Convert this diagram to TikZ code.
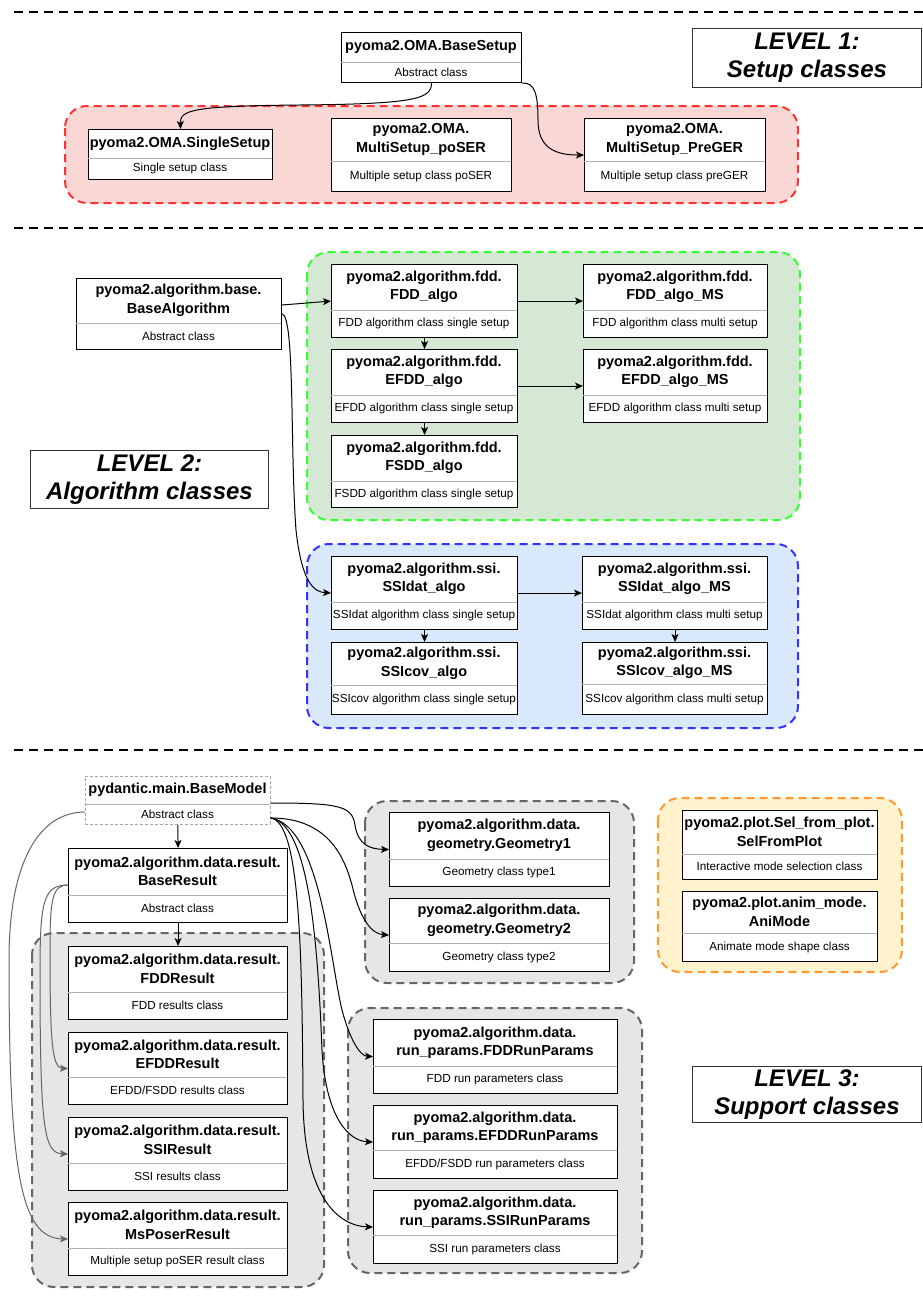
\documentclass[tikz,border=0pt]{standalone}
\usepackage{fontspec}
\setmainfont{Liberation Sans}
\usetikzlibrary{arrows.meta}
\definecolor{redfill}{HTML}{F8D7D5}
\definecolor{redline}{HTML}{FF3333}
\definecolor{greenfill}{HTML}{D5E8D4}
\definecolor{greenline}{HTML}{33FF33}
\definecolor{bluefill}{HTML}{DAE8FC}
\definecolor{blueline}{HTML}{3333FF}
\definecolor{grayfill}{HTML}{E6E6E6}
\definecolor{grayline}{HTML}{666666}
\definecolor{orangefill}{HTML}{FFF2CC}
\definecolor{orangeline}{HTML}{FF9933}
\tikzset{
  clsbox/.style={draw=black, line width=1.1pt, fill=white, inner sep=0pt, anchor=north west},
  ttltxt/.style={font=\bfseries\fontsize{14.5}{18.5}\selectfont, align=center, inner sep=0pt},
  subtxt/.style={font=\fontsize{11.7}{14}\selectfont, inner sep=0pt},
  divline/.style={draw=gray!60, line width=0.8pt},
  conn/.style={draw=black, line width=1pt, -{Stealth[length=8pt,width=7pt,inset=2pt]}},
  gconn/.style={conn, draw=grayline},
  sepline/.style={draw=black, line width=2.5pt, dash pattern=on 9pt off 6pt},
  grpbox/.style={rounded corners=22pt, line width=2pt, dash pattern=on 8pt off 5pt},
  lvlbox/.style={draw=black!80, line width=1pt, fill=white, inner sep=0pt, anchor=north west,
     font=\bfseries\itshape\fontsize{24}{28}\selectfont, align=center},
}
% [style] name x1 y1 x2 y2 ydiv title sub
\newcommand\clsnode[9][]{%
  \node[clsbox,#1,minimum width={#5pt-#3pt},minimum height={#6pt-#4pt}] (#2) at (#3,#4) {};
  \draw[divline] (#3,#7) -- (#5,#7);
  \node[ttltxt] (#2-t) at ({(#3+#5)/2},{(#4+#7)/2}) {#8};
  \node[subtxt] (#2-s) at ({(#3+#5)/2},{(#7+#6)/2}) {#9};
}
\begin{document}
\begin{tikzpicture}[x=1pt,y=-1pt]
\useasboundingbox (0,0) rectangle (923,1309);
\fill[white] (0,0) rectangle (923,1309);
% separators
\draw[sepline] (14,12) -- (923,12);
\draw[sepline] (14,228) -- (923,228);
\draw[sepline] (14,750) -- (923,750);
% containers
\draw[grpbox, draw=redline, fill=redfill] (65,106) rectangle (798,203);
\draw[grpbox, draw=greenline, fill=greenfill] (307,252) rectangle (800,520);
\draw[grpbox, draw=blueline, fill=bluefill] (307,544) rectangle (798,728);
\draw[grpbox, draw=grayline, fill=grayfill] (32,933) rectangle (324,1287);
\draw[grpbox, draw=grayline, fill=grayfill] (365,801) rectangle (634,983);
\draw[grpbox, draw=grayline, fill=grayfill] (348,1008) rectangle (642,1273);
\draw[grpbox, draw=orangeline, fill=orangefill] (658,798) rectangle (902,972);
% level labels
\node[lvlbox, minimum width=229pt, minimum height=59pt] (lvl1) at (692,28) {LEVEL 1:\\Setup classes};
\node[lvlbox, minimum width=238pt, minimum height=58pt] (lvl2) at (30,450) {LEVEL 2:\\Algorithm classes};
\node[lvlbox, minimum width=229pt, minimum height=56pt] (lvl3) at (692,1066) {LEVEL 3:\\Support classes};
% level 1
\clsnode{bsetup}{341}{32}{521}{82}{62}{pyoma2.OMA.BaseSetup}{Abstract class}
\clsnode{single}{88}{129}{272}{179}{158}{pyoma2.OMA.SingleSetup}{Single setup class}
\clsnode{poser}{331}{118}{511}{191}{161}{pyoma2.OMA.\\MultiSetup\_poSER}{Multiple setup class poSER}
\clsnode{preger}{584}{118}{765}{191}{161}{pyoma2.OMA.\\MultiSetup\_PreGER}{Multiple setup class preGER}
% level 2
\clsnode{balgo}{76}{278}{281}{349}{323}{pyoma2.algorithm.base.\\BaseAlgorithm}{Abstract class}
\clsnode{fdd}{331}{264}{517}{337}{310}{pyoma2.algorithm.fdd.\\FDD\_algo}{FDD algorithm class single setup}
\clsnode{efdd}{331}{349}{517}{422}{395}{pyoma2.algorithm.fdd.\\EFDD\_algo}{EFDD algorithm class single setup}
\clsnode{fsdd}{331}{435}{517}{507}{481}{pyoma2.algorithm.fdd.\\FSDD\_algo}{FSDD algorithm class single setup}
\clsnode{fddms}{583}{264}{767}{337}{310}{pyoma2.algorithm.fdd.\\FDD\_algo\_MS}{FDD algorithm class multi setup}
\clsnode{efddms}{583}{349}{767}{422}{395}{pyoma2.algorithm.fdd.\\EFDD\_algo\_MS}{EFDD algorithm class multi setup}
\clsnode{ssidat}{331}{556}{517}{629}{602}{pyoma2.algorithm.ssi.\\SSIdat\_algo}{SSIdat algorithm class single setup}
\clsnode{ssicov}{331}{642}{517}{714}{685}{pyoma2.algorithm.ssi.\\SSIcov\_algo}{SSIcov algorithm class single setup}
\clsnode{ssidatms}{582}{556}{767}{629}{602}{pyoma2.algorithm.ssi.\\SSIdat\_algo\_MS}{SSIdat algorithm class multi setup}
\clsnode{ssicovms}{582}{642}{767}{714}{684}{pyoma2.algorithm.ssi.\\SSIcov\_algo\_MS}{SSIcov algorithm class multi setup}
% level 3
\clsnode[draw=gray!70, line width=0.8pt, dash pattern=on 3pt off 2pt]{bmodel}{85}{776}{270}{824}{804}{pydantic.main.BaseModel}{Abstract class}
\clsnode{bresult}{68}{848}{287}{922}{895}{pyoma2.algorithm.data.result.\\BaseResult}{Abstract class}
\clsnode{fddres}{68}{946}{287}{1019}{992}{pyoma2.algorithm.data.result.\\FDDResult}{FDD results class}
\clsnode{efddres}{68}{1032}{287}{1104}{1077}{pyoma2.algorithm.data.result.\\EFDDResult}{EFDD/FSDD results class}
\clsnode{ssires}{68}{1117}{287}{1190}{1163}{pyoma2.algorithm.data.result.\\SSIResult}{SSI results class}
\clsnode{msposer}{68}{1202}{287}{1275}{1248}{pyoma2.algorithm.data.result.\\MsPoserResult}{Multiple setup poSER result class}
\clsnode{geo1}{389}{812}{609}{886}{859}{pyoma2.algorithm.data.\\geometry.Geometry1}{Geometry class type1}
\clsnode{geo2}{389}{898}{609}{971}{943}{pyoma2.algorithm.data.\\geometry.Geometry2}{Geometry class type2}
\clsnode{fddrp}{373}{1019}{617}{1093}{1066}{pyoma2.algorithm.data.\\run\_params.FDDRunParams}{FDD run parameters class}
\clsnode{efddrp}{373}{1105}{617}{1178}{1150}{pyoma2.algorithm.data.\\run\_params.EFDDRunParams}{EFDD/FSDD run parameters class}
\clsnode{ssirp}{373}{1190}{617}{1263}{1235}{pyoma2.algorithm.data.\\run\_params.SSIRunParams}{SSI run parameters class}
\clsnode{selplot}{682}{810}{877}{879}{854}{pyoma2.plot.Sel\_from\_plot.\\SelFromPlot}{Interactive mode selection class}
\clsnode{animode}{682}{891}{877}{961}{933}{pyoma2.plot.anim\_mode.\\AniMode}{Animate mode shape class}
% connectors level 1
\draw[conn] (bsetup.south) .. controls (431,98) and (420,104) .. (300,105) .. controls (192,106) and (180,110) .. (single.north);
\draw[conn] (bsetup.south east) .. controls (535,82) and (538,95) .. (538,120) .. controls (538,148) and (555,155) .. (preger.west);
% connectors level 2
\coordinate (ba1) at ([yshift=-27pt]balgo.north east);
\coordinate (ba2) at ([yshift=-36pt]balgo.north east);
\draw[conn] (ba1) -- (fdd.west);
\draw[conn] (ba2) .. controls (295,316) and (290,450) .. (296,530) .. controls (302,585) and (315,592) .. (ssidat.west);
\draw[conn] (fdd.east) -- (fddms.west);
\draw[conn] (efdd.east) -- (efddms.west);
\draw[conn] (fdd.south) -- (efdd.north);
\draw[conn] (efdd.south) -- (fsdd.north);
\draw[conn] (ssidat.east) -- (ssidatms.west);
\draw[conn] (ssidat.south) -- (ssicov.north);
\draw[conn] (ssidatms.south) -- (ssicovms.north);
% connectors level 3
\coordinate (bm1) at ([yshift=-27pt]bmodel.north east);
\coordinate (bm2) at ([yshift=-42pt]bmodel.north east);
\coordinate (bm3) at ([yshift=-36pt]bmodel.north west);
\coordinate (br1) at ([yshift=-37pt]bresult.north west);
\draw[conn] (bmodel.south) -- (bresult.north);
\draw[conn] (bresult.south) -- (fddres.north);
\draw[conn] (bm1) .. controls (340,803) and (352,806) .. (355,825) .. controls (358,845) and (370,849) .. (geo1.west);
\draw[conn] (bm2) .. controls (330,818) and (345,860) .. (352,885) .. controls (360,920) and (372,934) .. (geo2.west);
\draw[conn] (bm2) .. controls (320,826) and (330,960) .. (342,1010) .. controls (350,1040) and (360,1056) .. (fddrp.west);
\draw[conn] (bm2) .. controls (310,824) and (318,950) .. (322,1050) .. controls (326,1120) and (350,1141) .. (efddrp.west);
\draw[conn] (bm2) .. controls (300,822) and (302,950) .. (303,1100) .. controls (304,1200) and (340,1226) .. (ssirp.west);
\draw[gconn] (br1) .. controls (52,885) and (50,900) .. (50,950) .. controls (50,1040) and (52,1068) .. (efddres.west);
\draw[gconn] (br1) .. controls (44,885) and (40,900) .. (40,970) .. controls (40,1130) and (44,1153) .. (ssires.west);
\draw[gconn] (bm3) .. controls (40,812) and (9,860) .. (9,960) .. controls (9,1170) and (20,1238) .. (msposer.west);
\end{tikzpicture}
\end{document}
